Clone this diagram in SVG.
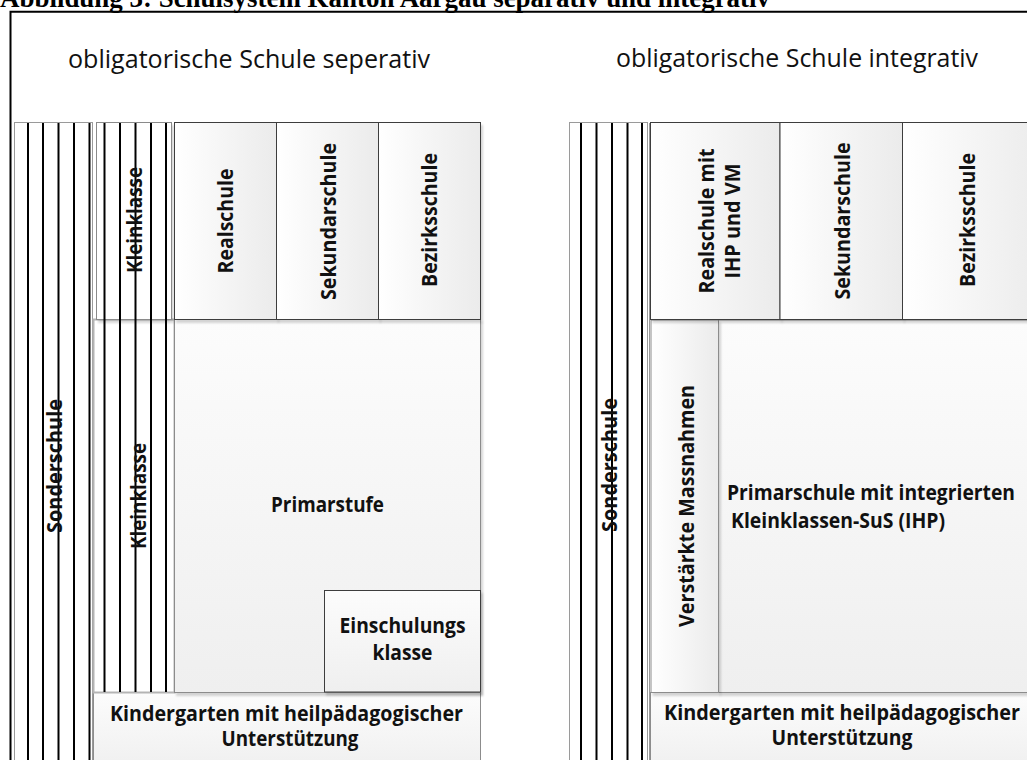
<svg xmlns="http://www.w3.org/2000/svg" width="1027" height="760" viewBox="0 0 1027 760">
  <defs>
    <linearGradient id="gH" x1="0" y1="0" x2="1" y2="0">
      <stop offset="0" stop-color="#ffffff"/>
      <stop offset="1" stop-color="#ebebeb"/>
    </linearGradient>
    <linearGradient id="gV" x1="0" y1="0" x2="0" y2="1">
      <stop offset="0" stop-color="#fcfcfc"/>
      <stop offset="1" stop-color="#efefef"/>
    </linearGradient>
    <filter id="sh" x="-10%" y="-10%" width="130%" height="130%">
      <feDropShadow dx="2" dy="3" stdDeviation="1.2" flood-color="#000" flood-opacity="0.16"/>
    </filter>
    <style>
      .title { font-family: "Liberation Serif", serif; font-weight: bold; font-size: 27px; fill: #000; }
      .head { font-family: "Open Sans", Lato, sans-serif; font-size: 25.5px; fill: #111; }
      .lbl { font-family: "Open Sans", Lato, sans-serif; font-weight: bold; font-size: 21px; fill: #111; }
      .mid { text-anchor: middle; }
      .box { stroke: #3c3c3c; stroke-width: 1; }
      .boxl { stroke: #8c8c8c; stroke-width: 1; }
      .col { fill: #fff; stroke: #9a9a9a; stroke-width: 1; }
      .bar { stroke: #000; stroke-width: 2; }
    </style>
  </defs>

  <rect width="1027" height="760" fill="#fff"/>

  <!-- caption line (cut at the top of the page) -->
  <text class="title" x="0" y="7" textLength="770" lengthAdjust="spacingAndGlyphs">Abbildung 3: Schulsystem Kanton Aargau separativ und integrativ</text>

  <!-- frame -->
  <path d="M10.5,760 V11.8 H1027" fill="none" stroke="#000" stroke-width="2"/>

  <!-- headings -->
  <text class="head" x="68" y="68" textLength="362" lengthAdjust="spacingAndGlyphs">obligatorische Schule seperativ</text>
  <text class="head" x="616" y="67" textLength="362" lengthAdjust="spacingAndGlyphs">obligatorische Schule integrativ</text>

  <!-- ============ separative school ============ -->
  <g id="sep-sonderschule">
    <rect class="col" x="14.5" y="122.5" width="78" height="660"/>
    <line class="bar" x1="28" y1="123" x2="28" y2="760"/>
    <line class="bar" x1="43" y1="123" x2="43" y2="760"/>
    <line class="bar" x1="58.5" y1="123" x2="58.5" y2="760"/>
    <line class="bar" x1="74" y1="123" x2="74" y2="760"/>
    <line class="bar" x1="89.5" y1="123" x2="89.5" y2="760"/>
    <text class="lbl mid" transform="translate(61.5,466) rotate(-90)" textLength="134" lengthAdjust="spacingAndGlyphs">Sonderschule</text>
  </g>

  <g id="sep-kindergarten">
    <rect x="93.5" y="692.5" width="387" height="80" fill="url(#gV)" class="boxl"/>
    <text class="lbl mid" x="286.5" y="720.5" textLength="353" lengthAdjust="spacingAndGlyphs">Kindergarten mit heilpädagogischer</text>
    <text class="lbl mid" x="290" y="746" textLength="137" lengthAdjust="spacingAndGlyphs">Unterstützung</text>
  </g>

  <g id="sep-kleinklasse-unten">
    <rect x="93.5" y="319.5" width="81" height="373" fill="#fff" stroke="#b4b4b4" stroke-width="2"/>
    <line class="bar" x1="104.5" y1="319" x2="104.5" y2="692"/>
    <line class="bar" x1="120" y1="319" x2="120" y2="692"/>
    <line class="bar" x1="135.5" y1="319" x2="135.5" y2="692"/>
    <line class="bar" x1="151" y1="319" x2="151" y2="692"/>
    <line class="bar" x1="166" y1="319" x2="166" y2="692"/>
    <text class="lbl mid" transform="translate(145.5,496) rotate(-90)" textLength="106" lengthAdjust="spacingAndGlyphs">Kleinklasse</text>
  </g>

  <g id="sep-primarstufe">
    <rect x="174.5" y="319.5" width="306" height="373" fill="url(#gV)" class="boxl" filter="url(#sh)"/>
    <text class="lbl mid" x="327.5" y="512" textLength="113" lengthAdjust="spacingAndGlyphs">Primarstufe</text>
  </g>

  <g id="sep-einschulungsklasse">
    <rect x="324.5" y="590.5" width="156" height="101.5" fill="url(#gV)" class="box" filter="url(#sh)"/>
    <text class="lbl mid" x="402.5" y="633" textLength="126" lengthAdjust="spacingAndGlyphs">Einschulungs</text>
    <text class="lbl mid" x="402.5" y="660" textLength="60" lengthAdjust="spacingAndGlyphs">klasse</text>
  </g>

  <g id="sep-kleinklasse-oben">
    <rect x="96.5" y="122.5" width="75" height="197" fill="#fff" stroke="#8a8a8a" stroke-width="1" filter="url(#sh)"/>
    <line class="bar" x1="104.5" y1="123" x2="104.5" y2="320"/>
    <line class="bar" x1="120" y1="123" x2="120" y2="320"/>
    <line class="bar" x1="135.5" y1="123" x2="135.5" y2="320"/>
    <line class="bar" x1="151" y1="123" x2="151" y2="320"/>
    <line class="bar" x1="166" y1="123" x2="166" y2="320"/>
    <text class="lbl mid" transform="translate(141.5,220) rotate(-90)" textLength="106" lengthAdjust="spacingAndGlyphs">Kleinklasse</text>
  </g>

  <g id="sep-realschule">
    <rect x="174.5" y="122.5" width="102" height="197" fill="url(#gH)" class="box" filter="url(#sh)"/>
    <text class="lbl mid" transform="translate(233,221) rotate(-90)" textLength="105" lengthAdjust="spacingAndGlyphs">Realschule</text>
  </g>
  <g id="sep-sekundarschule">
    <rect x="276.5" y="122.5" width="102" height="197" fill="url(#gH)" class="box" filter="url(#sh)"/>
    <text class="lbl mid" transform="translate(336,221.5) rotate(-90)" textLength="157" lengthAdjust="spacingAndGlyphs">Sekundarschule</text>
  </g>
  <g id="sep-bezirksschule">
    <rect x="378.5" y="122.5" width="102" height="197" fill="url(#gH)" class="box" filter="url(#sh)"/>
    <text class="lbl mid" transform="translate(437,220) rotate(-90)" textLength="134" lengthAdjust="spacingAndGlyphs">Bezirksschule</text>
  </g>

  <!-- ============ integrative school ============ -->
  <g id="int-sonderschule">
    <rect class="col" x="569.5" y="122.5" width="78" height="660"/>
    <line x1="649.5" y1="123" x2="649.5" y2="760" stroke="#9a9a9a" stroke-width="1"/>
    <line class="bar" x1="581" y1="123" x2="581" y2="760"/>
    <line class="bar" x1="596.5" y1="123" x2="596.5" y2="760"/>
    <line class="bar" x1="612" y1="123" x2="612" y2="760"/>
    <line class="bar" x1="627.5" y1="123" x2="627.5" y2="760"/>
    <line class="bar" x1="642" y1="123" x2="642" y2="760"/>
    <text class="lbl mid" transform="translate(616.5,465) rotate(-90)" textLength="134" lengthAdjust="spacingAndGlyphs">Sonderschule</text>
  </g>

  <g id="int-kindergarten">
    <rect x="650.5" y="692.5" width="390" height="80" fill="url(#gV)" class="boxl"/>
    <text class="lbl mid" x="842" y="719.5" textLength="356" lengthAdjust="spacingAndGlyphs">Kindergarten mit heilpädagogischer</text>
    <text class="lbl mid" x="842" y="745" textLength="141" lengthAdjust="spacingAndGlyphs">Unterstützung</text>
  </g>

  <g id="int-primarschule">
    <rect x="718.5" y="320" width="322" height="372.5" fill="url(#gV)" class="boxl" filter="url(#sh)"/>
    <text class="lbl" x="727" y="500" textLength="288" lengthAdjust="spacingAndGlyphs">Primarschule mit integrierten</text>
    <text class="lbl" x="731" y="528" textLength="214" lengthAdjust="spacingAndGlyphs">Kleinklassen-SuS (IHP)</text>
  </g>

  <g id="int-verstaerkte-massnahmen">
    <rect x="651" y="320" width="67.5" height="372.5" fill="url(#gH)" class="boxl" filter="url(#sh)"/>
    <text class="lbl mid" transform="translate(694,506) rotate(-90)" textLength="242" lengthAdjust="spacingAndGlyphs">Verstärkte Massnahmen</text>
  </g>

  <g id="int-realschule">
    <rect x="650.5" y="122.5" width="129.5" height="197" fill="url(#gH)" class="box" filter="url(#sh)"/>
    <text class="lbl mid" transform="translate(714,221) rotate(-90)" textLength="145" lengthAdjust="spacingAndGlyphs">Realschule mit</text>
    <text class="lbl mid" transform="translate(740,221) rotate(-90)" textLength="115" lengthAdjust="spacingAndGlyphs">IHP und VM</text>
  </g>
  <g id="int-sekundarschule">
    <rect x="780" y="122.5" width="122.5" height="197" fill="url(#gH)" class="box" filter="url(#sh)"/>
    <text class="lbl mid" transform="translate(850,221) rotate(-90)" textLength="157" lengthAdjust="spacingAndGlyphs">Sekundarschule</text>
  </g>
  <g id="int-bezirksschule">
    <rect x="902.5" y="122.5" width="140" height="197" fill="url(#gH)" class="box" filter="url(#sh)"/>
    <text class="lbl mid" transform="translate(975,220) rotate(-90)" textLength="134" lengthAdjust="spacingAndGlyphs">Bezirksschule</text>
  </g>
</svg>
